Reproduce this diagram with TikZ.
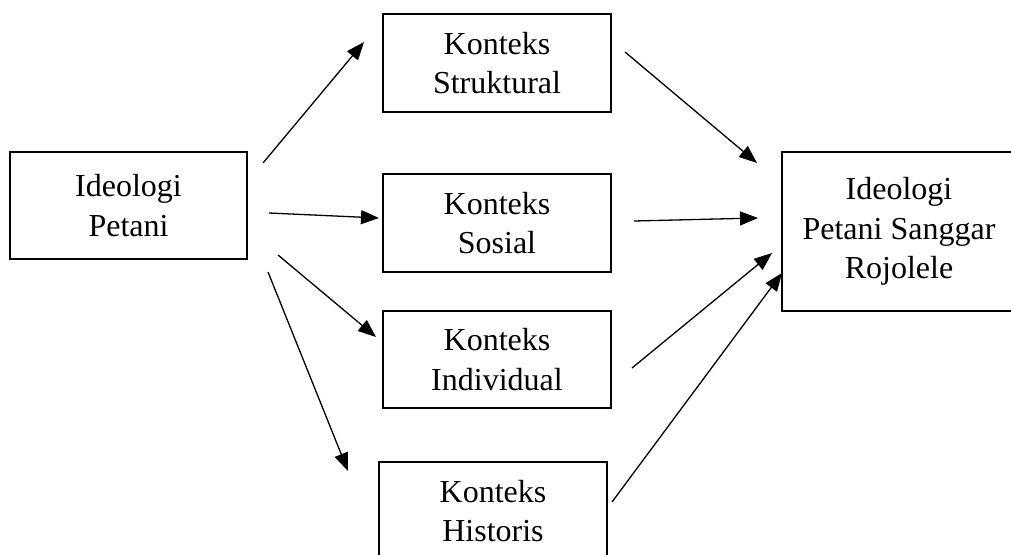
\documentclass[tikz,border=0pt]{standalone}
\usepackage{fontspec}
\setmainfont{Liberation Serif}
\usetikzlibrary{arrows.meta}
\begin{document}
\begin{tikzpicture}[x=1pt,y=-1pt,
  box/.style={draw, line width=2.5pt, inner sep=0pt, align=center,
    font=\fontsize{32}{39.5}\selectfont},
  link/.style={line width=1.3pt, -{Triangle[length=18pt,width=14pt]}}]
\useasboundingbox (0,0) rectangle (1011,554);
\clip (0,0) rectangle (1011,554);
\fill[white] (0,0) rectangle (1011,554);
\node[box, minimum width=237pt, minimum height=107pt] (petani) at (128.5,205.5) {Ideologi\\Petani};
\node[box, minimum width=228pt, minimum height=98pt] (struk) at (497,63) {Konteks\\Struktural};
\node[box, minimum width=228pt, minimum height=98pt] (sosial) at (497,223) {Konteks\\Sosial};
\node[box, minimum width=228pt, minimum height=97pt] (indiv) at (497,359.5) {Konteks\\Individual};
\node[box, minimum width=228pt, minimum height=98pt] (hist) at (493,511) {Konteks\\Historis};
\node[box, minimum width=234pt, minimum height=159pt] (ideo) at (899,231.5) {Ideologi\\Petani Sanggar\\Rojolele};
% arrow end points
\coordinate (a1s) at (263,163); \coordinate (a1e) at (364,42);
\coordinate (a2s) at (269,213); \coordinate (a2e) at (379,218);
\coordinate (a3s) at (278,255); \coordinate (a3e) at (376,337);
\coordinate (a4s) at (268,272); \coordinate (a4e) at (348,471);
\coordinate (b1s) at (625,52);  \coordinate (b1e) at (757,163);
\coordinate (b2s) at (634,221); \coordinate (b2e) at (758,218);
\coordinate (b3s) at (632,368); \coordinate (b3e) at (772,253);
\coordinate (b4s) at (612,502); \coordinate (b4e) at (782,273);
\draw[link] (a1s) -- (a1e);
\draw[link] (a2s) -- (a2e);
\draw[link] (a3s) -- (a3e);
\draw[link] (a4s) -- (a4e);
\draw[link] (b1s) -- (b1e);
\draw[link] (b2s) -- (b2e);
\draw[link] (b3s) -- (b3e);
\draw[link] (b4s) -- (b4e);
\end{tikzpicture}
\end{document}
